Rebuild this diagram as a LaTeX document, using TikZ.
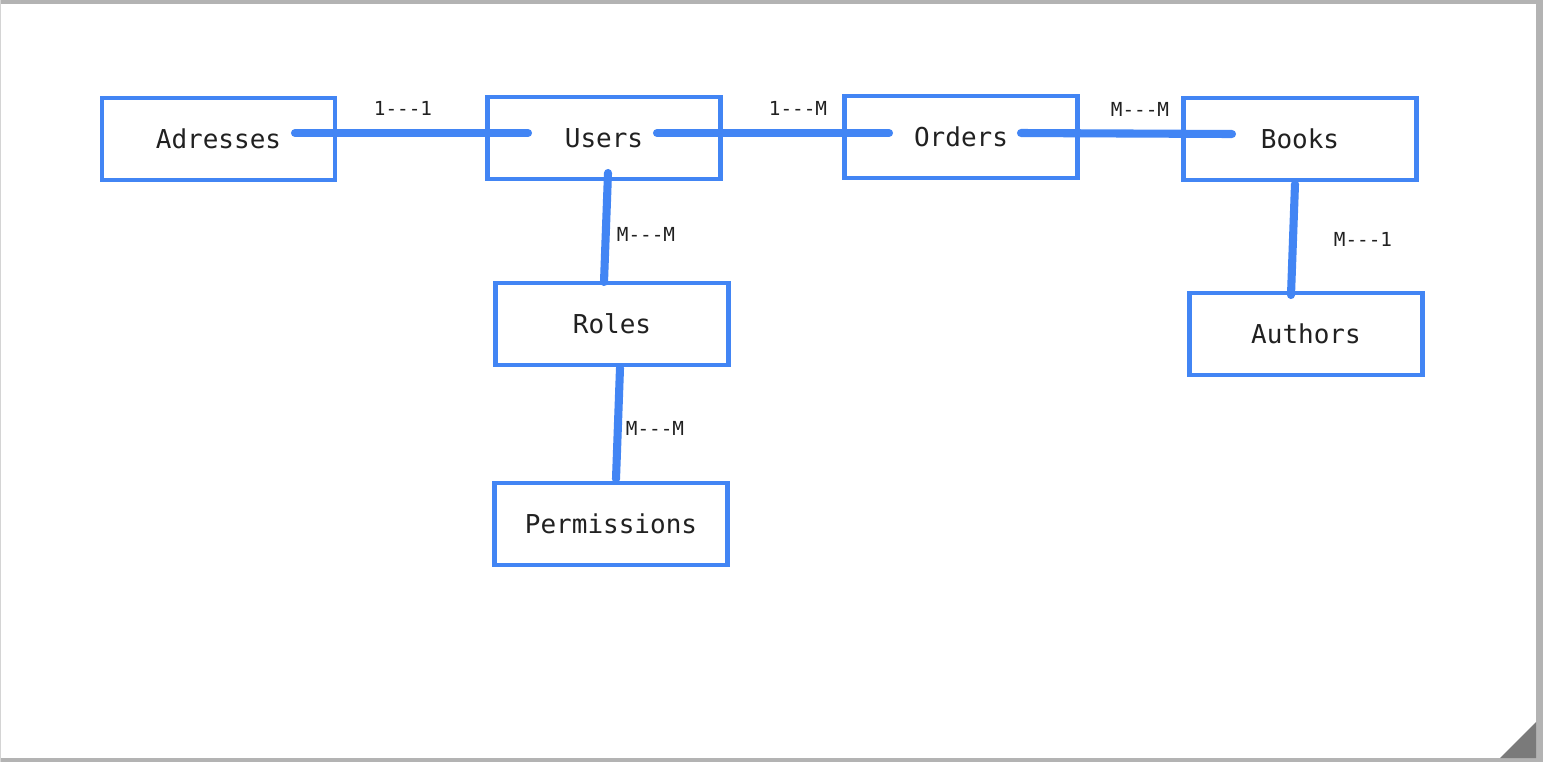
\documentclass[tikz,border=0pt]{standalone}
\usepackage{fontspec}
\usetikzlibrary{calc}
\newfontfamily\erfont{DejaVu Sans Mono}
\definecolor{erblue}{HTML}{4285F4}
\definecolor{ertext}{HTML}{212121}
\definecolor{framegray}{HTML}{B3B3B3}
\definecolor{edgegray}{HTML}{D4D4D4}
\definecolor{cornergray}{HTML}{7A7A7A}

\begin{document}
\begin{tikzpicture}[x=0.02cm,y=-0.02cm,
    entity/.style={draw=erblue,line width=2.5pt,minimum width=4.66cm,minimum height=1.64cm,inner sep=0pt,text=ertext,font=\erfont\fontsize{14.8}{17}\selectfont},
    link/.style={draw=erblue,line width=4.6pt,line cap=round},
    card/.style={text=ertext,inner sep=0pt,font=\erfont\fontsize{11}{13}\selectfont}]
      \useasboundingbox (0,0) rectangle (1543,762);
      \fill[white] (0,0) rectangle (1543,762); % sheet
      \fill[framegray] (0,0) rectangle (1543,4); % top edge
      \fill[framegray] (1536,0) rectangle (1543,762); % right edge
      \fill[framegray] (0,758) rectangle (1543,762); % bottom edge
      \fill[edgegray] (0,0) rectangle (1.5,762); % left edge
      \fill[cornergray] (1500,758) -- (1536,758) -- (1536,722) -- cycle; % corner

      \node[entity] (adr) at (218.5,139) {Adresses};
      \node[entity] (usr) at (604,138) {Users};
      \node[entity] (ord) at (961,137) {Orders};
      \node[entity] (bks) at (1300,139) {Books};
      \node[entity] (aut) at (1306,334) {Authors};
      \node[entity] (rol) at (612,324) {Roles};
      \node[entity] (prm) at (611,524) {Permissions};

      \draw[link] ($(adr)+(76.5,-6)$) -- ($(usr)+(-76,-5)$); % adresses - users
      \draw[link] ($(usr)+(53,-5)$) -- ($(ord)+(-72,-4)$); % users - orders
      \draw[link] ($(ord)+(60,-4)$) -- ($(bks)+(-68,-5)$); % orders - books
      \draw[link] ($(usr)+(4,35)$) -- ($(rol)+(-8,-42)$); % users - roles
      \draw[link] ($(rol)+(8,44)$) -- ($(prm)+(5,-45)$); % roles - permissions
      \draw[link] ($(bks)+(-5,45)$) -- ($(aut)+(-15,-39)$); % books - authors

      \node[card] (c1) at (403,108) {1---1};
      \node[card] (c2) at (798,108) {1---M};
      \node[card] (c3) at (1140,109) {M---M};
      \node[card] (c4) at (646,234) {M---M};
      \node[card] (c5) at (655,428) {M---M};
      \node[card] (c6) at (1363,239) {M---1};
\end{tikzpicture}
\end{document}
